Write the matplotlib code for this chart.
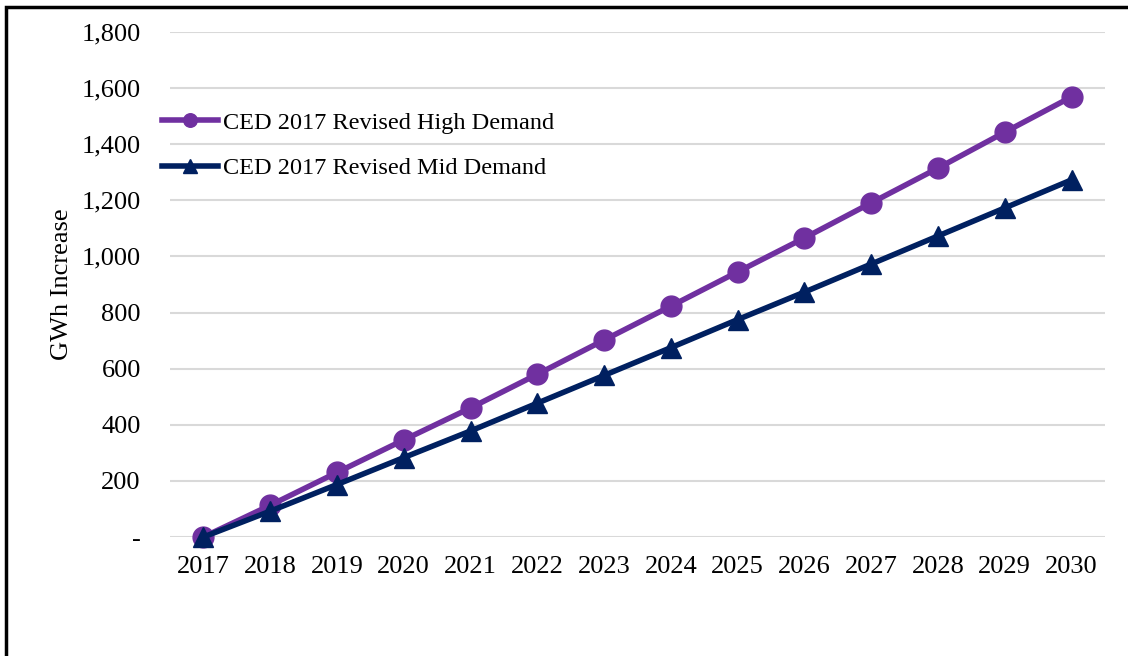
#!/usr/bin/env python3
# -*- coding: utf-8 -*-

import matplotlib
matplotlib.use("Agg")
import matplotlib.pyplot as plt
from matplotlib.patches import Rectangle
from matplotlib.ticker import FuncFormatter

# DATA ----------------------------------------------------------------------------------------------------------------

years = ["2017", "2018", "2019", "2020", "2021", "2022", "2023",
         "2024", "2025", "2026", "2027", "2028", "2029", "2030"]
high_demand = [0, 113, 230, 346, 460, 580, 702, 823, 945, 1066, 1191, 1315, 1443, 1569]
mid_demand = [0, 92, 187, 283, 378, 477, 576, 675, 775, 873, 973, 1073, 1173, 1273]
high_label = "CED 2017 Revised High Demand"
mid_label = "CED 2017 Revised Mid Demand"
y_label = "GWh Increase"

# PLOT ----------------------------------------------------------------------------------------------------------------

plt.rcParams['font.family'] = ['Liberation Serif', 'DejaVu Serif']

fig = plt.figure(figsize=(11.28, 6.56), dpi=100)
ax = fig.add_axes([0.1507, 0.1814, 0.8289, 0.7698])

x = range(len(years))
ax.plot(x, high_demand, color='#7030A0', linewidth=4, marker='o', markersize=15,
        label=high_label, clip_on=False, zorder=3)
ax.plot(x, mid_demand, color='#002060', linewidth=4, marker='^', markersize=15,
        label=mid_label, clip_on=False, zorder=4)

ax.set_xlim(-0.5, len(years) - 0.5)
ax.set_ylim(0, 1800)
ax.set_xticks(list(x))
ax.set_xticklabels(years)
ax.set_yticks(range(0, 1801, 200))
ax.yaxis.set_major_formatter(FuncFormatter(lambda v, p: '-' if v == 0 else f"{int(v):,}"))
ax.tick_params(axis='both', length=0, labelsize=19)
ax.tick_params(axis='x', pad=14)
ax.tick_params(axis='y', pad=21)
ax.grid(axis='y', color='#D9D9D9', linewidth=1.5)
ax.set_axisbelow(True)
for spine in ax.spines.values():
    spine.set_visible(False)
ax.set_ylabel(y_label, fontsize=19, labelpad=6)

ax.legend(loc='upper left', bbox_to_anchor=(-0.032, 0.885), frameon=False, fontsize=17.5,
          handlelength=2.3, handletextpad=0.2, labelspacing=0.95, markerscale=0.65)

# outer frame
fig.patches.append(Rectangle((0.005, -0.02), 1.02, 1.01, transform=fig.transFigure,
                             fill=False, edgecolor='black', linewidth=2.5))

fig.savefig('out.png', dpi=100)
